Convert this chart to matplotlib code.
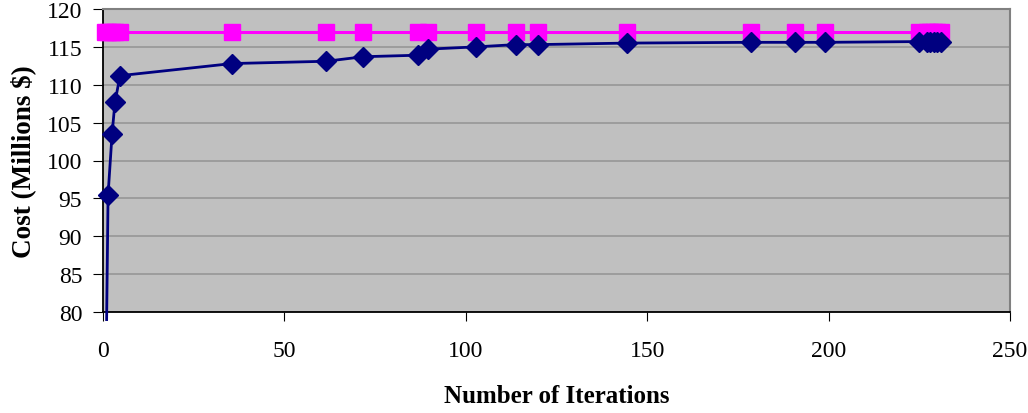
import matplotlib
matplotlib.use("Agg")
import matplotlib.pyplot as plt

# Data
iters_best = [1.0, 1.4, 2.5, 3.3, 4.7, 35.6, 61.5, 71.7, 86.8, 89.6, 102.8, 113.8, 119.9,
              144.4, 178.6, 190.7, 199.0, 225, 227, 228, 229, 230, 231]
cost_best = [79.0, 95.5, 103.5, 107.7, 111.2, 112.8, 113.1, 113.7, 113.9, 114.7, 115.0, 115.3, 115.3,
             115.5, 115.6, 115.6, 115.6, 115.7, 115.7, 115.7, 115.7, 115.7, 115.7]

iters_opt = [0.5, 1.4, 2.5, 3.3, 4.7, 35.6, 61.5, 71.7, 86.8, 89.6, 102.8, 113.8, 119.9,
             144.4, 178.6, 190.7, 199.0, 225, 227, 228, 229, 230, 231]
cost_opt = [117.0] * len(iters_opt)

xticks = [0, 50, 100, 150, 200, 250]
yticks = [80, 85, 90, 95, 100, 105, 110, 115, 120]

plt.rcParams['font.family'] = ['Liberation Serif', 'DejaVu Serif']

fig = plt.figure(figsize=(10.28, 4.14), dpi=100)
ax = fig.add_axes([103/1028, 101/414, 907/1028, 303/414])
ax.set_facecolor('#C0C0C0')

ax.plot(iters_opt, cost_opt, color='#FF00FF', lw=2.2, marker='s', ms=11,
        zorder=3, clip_on=False)
ax.plot(iters_best, cost_best, color='#000080', lw=2, marker='D', ms=10,
        markevery=list(range(1, len(iters_best))), zorder=4, clip_on=False)

ax.set_xlim(0, 250)
ax.set_ylim(80, 120)
ax.set_xticks(xticks)
ax.set_yticks(yticks)
ax.yaxis.grid(True, color='#9A9A9A', lw=1.3)
ax.set_axisbelow(True)

for s in ['top', 'right']:
    ax.spines[s].set_color('#808080')
    ax.spines[s].set_linewidth(1.5)
for s in ['left', 'bottom']:
    ax.spines[s].set_color('#000000')
    ax.spines[s].set_linewidth(1.3)

ax.tick_params(axis='both', direction='out', labelsize=17, color='black')
ax.tick_params(axis='x', pad=14, length=6.5)
ax.tick_params(axis='y', pad=8, length=7)

ax.set_xlabel('Number of Iterations', fontsize=18, fontweight='bold', labelpad=16)
ax.set_ylabel('Cost (Millions $)', fontsize=19.5, fontweight='bold', labelpad=8)

fig.savefig('out.png', dpi=100)
